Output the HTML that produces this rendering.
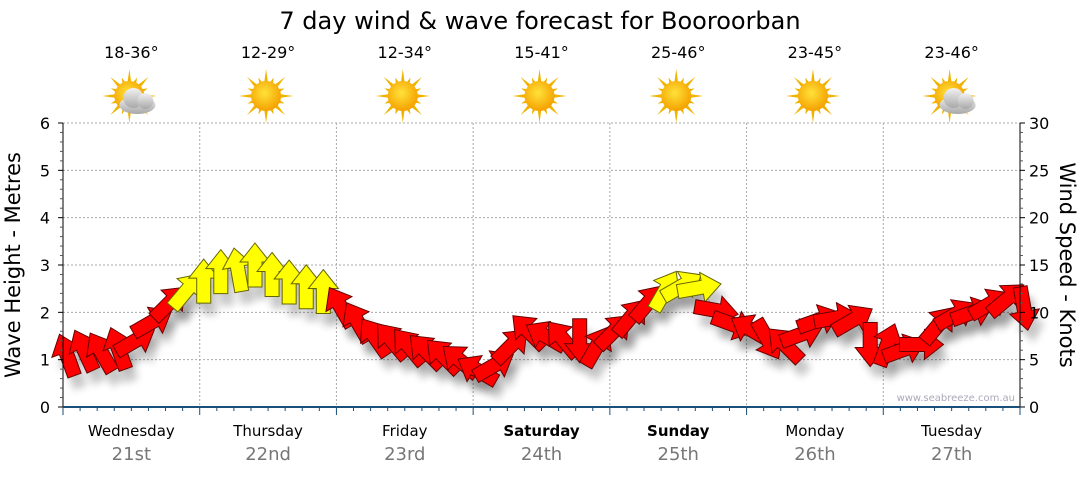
<!DOCTYPE html>
<html><head><meta charset="utf-8"><style>
body{margin:0;background:#fff;width:1080px;height:475px;overflow:hidden;font-family:"Liberation Sans",sans-serif}
svg text{font-family:"DejaVu Sans","Liberation Sans",sans-serif}
</style></head><body>
<svg id="c" width="1080" height="475" xmlns="http://www.w3.org/2000/svg">
<defs>
<filter id="sh" x="-50%" y="-50%" width="200%" height="200%"><feGaussianBlur stdDeviation="4"/></filter>
<radialGradient id="sun" cx="45%" cy="40%" r="60%"><stop offset="0" stop-color="#ffe23a"/><stop offset="1" stop-color="#f5a100"/></radialGradient>
<linearGradient id="cloud" x1="0" y1="0" x2="0" y2="1"><stop offset="0" stop-color="#f2f2f2"/><stop offset="1" stop-color="#a8a8a8"/></linearGradient>
</defs>
<text x="540" y="29" font-size="24" text-anchor="middle" fill="#000">7 day wind &amp; wave forecast for Booroorban</text>
<g id="grid"></g>
<g id="shadows"></g>
<polyline id="wline" fill="none" stroke="#999" stroke-width="1"/>
<g id="arrows"></g>
<g id="axes"></g>
<text x="1015" y="401" font-size="10" text-anchor="end" fill="#aab">www.seabreeze.com.au</text>
<text transform="translate(20,265) rotate(-90)" font-size="21" text-anchor="middle">Wave Height - Metres</text>
<text transform="translate(1060,265) rotate(90)" font-size="21" text-anchor="middle">Wind Speed - Knots</text>
</svg>
<script>
const days=["Wednesday","Thursday","Friday","Saturday","Sunday","Monday","Tuesday"];
const dates=["21st","22nd","23rd","24th","25th","26th","27th"];
const temps=["18-36°","12-29°","12-34°","15-41°","25-46°","23-45°","23-46°"];
const cloudy=[true,false,false,false,false,false,true];
const boldDays=[false,false,false,true,true,false,false];
const windSpeed=[5.5,6,5.8,6.2,7,9,11,12.3, 13.3,14.3,14.5,15,14,13.2,12.7,12.2, 10.6,9,7.4,7,6.4,5.9,5.4,4.9, 3.9,4.4,6.5,8,7.5,7.2,7,6.4, 8,9.5,11,12.3,12.8,12.6,10.2,8.7, 8.2,7.1,6.6,7.7,9.2,9.4,9.2,6.6, 6.6,6.1,6.6,8.7,9.8,10,10.9,11.4,10.4];
const windDir=[-20,-25,-30,-20,60,60,45,40, 0,0,-10,0,0,0,0,0, -30,-30,-35,-40,-40,-45,-45,-50, -60,60,45,-45,-60,-40,180,30, 45,40,40,30,60,80,100,110, -60,150,-45,70,70,80,60,180, 20,70,90,40,60,70,60,50,170];
const x0=63,x1=1020,yTop=123,yBot=407,dayW=(x1-x0)/7;
const ns="http://www.w3.org/2000/svg";
function el(t,a,p){const e=document.createElementNS(ns,t);for(const k in a)e.setAttribute(k,a[k]);p.appendChild(e);return e;}
const xT=i=>x0+4+i*dayW/8;
const yK=k=>yBot-k*(yBot-yTop)/30;
const yM=m=>yBot-m*(yBot-yTop)/6;
const grid=document.getElementById('grid'),axes=document.getElementById('axes');
for(let m=1;m<=6;m++){const l=el('line',{x1:x0,x2:x1,y1:yM(m),y2:yM(m),stroke:'#aaa','stroke-dasharray':'2,2'},grid);
}
for(let d=1;d<7;d++){const l=el('line',{x1:x0+d*dayW,x2:x0+d*dayW,y1:yTop,y2:yBot,stroke:'#aaa','stroke-dasharray':'2,2'},grid);
}
el('line',{x1:x0,x2:x0,y1:yTop,y2:yBot,stroke:'#000'},axes);
el('line',{x1:x1,x2:x1,y1:yTop,y2:yBot,stroke:'#000'},axes);
el('line',{x1:x0,x2:x1,y1:yBot,y2:yBot,stroke:'#1a4f7a','stroke-width':2},axes);
for(let m=0;m<=6;m++){const t=el('text',{x:50,y:yM(m)+6,'font-size':16,'text-anchor':'end'},axes);t.textContent=m;

el('line',{x1:x0-5,x2:x0,y1:yM(m),y2:yM(m),stroke:'#000'},axes);
if(m<6)for(let s=1;s<5;s++)el('line',{x1:x0-3,x2:x0,y1:yM(m+s/5),y2:yM(m+s/5),stroke:'#555'},axes);}
for(let k=0;k<=30;k+=5){const t=el('text',{x:1029,y:yK(k)+6,'font-size':16},axes);t.textContent=k;

el('line',{x1:x1,x2:x1+5,y1:yK(k),y2:yK(k),stroke:'#000'},axes);
if(k<30)for(let s=1;s<5;s++)el('line',{x1:x1,x2:x1+3,y1:yK(k+s),y2:yK(k+s),stroke:'#555'},axes);}
for(let i=0;i<=56;i++){const x=x0+i*dayW/8;el('line',{x1:x,x2:x,y1:yBot,y2:yBot+(i%8==0?8:4),stroke:'#1a4f7a'},axes);}
days.forEach((d,i)=>{const cx=x0+(i+0.5)*dayW;
const t=el('text',{x:cx,y:436,'font-size':15,'text-anchor':'middle','font-weight':boldDays[i]?'bold':'normal'},axes);t.textContent=d;

const t2=el('text',{x:cx,y:460,'font-size':18,'text-anchor':'middle',fill:'#777'},axes);t2.textContent=dates[i];

const t3=el('text',{x:cx,y:58,'font-size':16,'text-anchor':'middle'},axes);t3.textContent=temps[i];

const g=el('g',{transform:`translate(${cx-2},96)`},axes);

for(let r=0;r<16;r++){const a=r*22.5*Math.PI/180,L=r%2?20:27;
el('polygon',{points:`${Math.cos(a)*L},${Math.sin(a)*L} ${Math.cos(a+0.15)*13},${Math.sin(a+0.15)*13} ${Math.cos(a-0.15)*13},${Math.sin(a-0.15)*13}`,fill:'#f0b400'},g);}
el('circle',{r:15,fill:'url(#sun)'},g);
if(cloudy[i]){const c=el('g',{transform:'translate(8,5)'},g);
el('ellipse',{cx:0,cy:4,rx:18,ry:9,fill:'url(#cloud)'},c);el('circle',{cx:-4,cy:-3,r:10,fill:'url(#cloud)'},c);el('circle',{cx:8,cy:0,r:8,fill:'url(#cloud)'},c);}
});
const sh=document.getElementById('shadows'),ar=document.getElementById('arrows');
document.getElementById('wline').setAttribute('points',windSpeed.map((k,i)=>xT(i)+','+yK(k)).join(' '));
const pts="0,-22 15,-3 7,-3 7,22 -7,22 -7,-3 -15,-3";
windSpeed.forEach((k,i)=>{const x=xT(i),y=yK(k);
const s=el('polygon',{points:pts,fill:'#000',opacity:0.22,filter:'url(#sh)',transform:`translate(${x+6},${y+12}) rotate(${windDir[i]})`},sh);

const yel=k>=12;
const p=el('polygon',{points:pts,fill:yel?'#ffff00':'#ff0000',stroke:yel?'#666600':'#660000','stroke-width':1,transform:`translate(${x},${y}) rotate(${windDir[i]})`},ar);
});
</script>
</body></html>
